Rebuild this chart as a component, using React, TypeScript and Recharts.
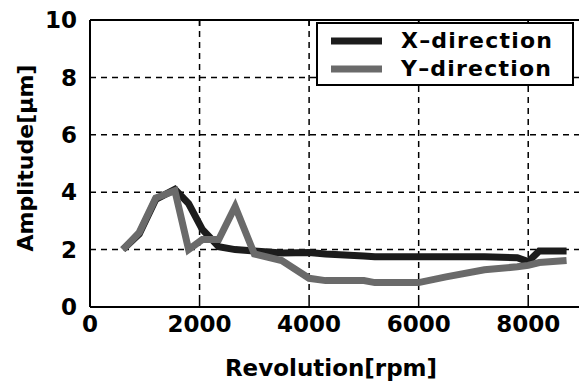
import { LineChart, Line, XAxis, YAxis, CartesianGrid, Legend, Label } from "recharts";

const rpm = [600, 900, 1200, 1550, 1800, 2050, 2350, 2650, 3000, 3500, 4000, 4300, 5000, 5200, 6000, 6500, 7200, 7800, 8000, 8200, 8700];
const xDirection = [2.0, 2.55, 3.75, 4.1, 3.6, 2.7, 2.1, 2.0, 1.95, 1.88, 1.9, 1.85, 1.78, 1.75, 1.75, 1.75, 1.75, 1.72, 1.58, 1.95, 1.95];
const yDirection = [2.0, 2.6, 3.8, 4.05, 2.0, 2.35, 2.35, 3.5, 1.85, 1.62, 1.0, 0.92, 0.92, 0.85, 0.85, 1.05, 1.3, 1.4, 1.45, 1.55, 1.62];

const xTicks = [0, 2000, 4000, 6000, 8000];
const yTicks = [0, 2, 4, 6, 8, 10];

const series = [
  { key: "x", name: "X\u2013direction", color: "#1c1c1c" },
  { key: "y", name: "Y\u2013direction", color: "#6a6a6a" },
];

const data = rpm.map((r, i) => ({ rpm: r, x: xDirection[i], y: yDirection[i] }));

const FONT = "'DejaVu Sans', sans-serif";
const tickStyle = { fill: "#000", fontSize: 23, fontWeight: 700, fontFamily: FONT };

function LegendBox() {
  return (
    <div style={{ width: 254, height: 60, border: "2px solid #000", background: "#fff", fontFamily: FONT, fontWeight: 700, fontSize: 22, letterSpacing: 1.2, color: "#000", whiteSpace: "nowrap" }}>
      {series.map((s) => (
        <div key={s.key} style={{ display: "flex", alignItems: "center", height: 28, marginTop: s.key === "x" ? 3 : 0 }}>
          <svg width={51} height={10} style={{ marginLeft: 13, marginRight: 19, flexShrink: 0 }}>
            <line x1={0} x2={51} y1={5} y2={5} stroke={s.color} strokeWidth={7} />
          </svg>
          <span style={{ lineHeight: "28px" }}>{s.name}</span>
        </div>
      ))}
    </div>
  );
}

export default function App() {
  return (
    <div style={{ position: "absolute", left: 0, top: 0, width: 579, height: 383, overflow: "hidden", background: "#fff" }}>
      <LineChart width={600} height={383} data={data} margin={{ top: 19, right: 17, bottom: 16, left: 30 }}>
        <CartesianGrid stroke="#000" strokeWidth={1.5} strokeDasharray="6 5" />
        <XAxis
          dataKey="rpm"
          type="number"
          domain={[0, 9000]}
          ticks={xTicks}
          height={60}
          tickSize={-6}
          tickMargin={15}
          axisLine={{ stroke: "#000", strokeWidth: 2 }}
          tickLine={{ stroke: "#000", strokeWidth: 1.5 }}
          tick={tickStyle}
        >
          <Label
            content={() => (
              <text x={331} y={376} textAnchor="middle" fill="#000" style={{ fontSize: 23, fontWeight: 700, fontFamily: FONT }}>
                Revolution[rpm]
              </text>
            )}
          />
        </XAxis>
        <XAxis
          xAxisId="top"
          orientation="top"
          dataKey="rpm"
          type="number"
          domain={[0, 9000]}
          ticks={xTicks}
          height={1}
          tickSize={-6}
          tickFormatter={() => ""}
          axisLine={{ stroke: "#000", strokeWidth: 2 }}
          tickLine={{ stroke: "#000", strokeWidth: 1.5 }}
        />
        <YAxis
          type="number"
          domain={[0, 10]}
          ticks={yTicks}
          width={60}
          tickLine={false}
          tickMargin={7}
          axisLine={{ stroke: "#000", strokeWidth: 2 }}
          tick={tickStyle}
        >
          <Label
            content={() => (
              <text x={33} y={158} textAnchor="middle" transform="rotate(-90 33 158)" fill="#000" style={{ fontSize: 22, fontWeight: 700, fontFamily: FONT }}>
                Amplitude[μm]
              </text>
            )}
          />
        </YAxis>
        <Legend
          layout="vertical"
          align="center"
          verticalAlign="middle"
          wrapperStyle={{ left: 316, top: 22, width: 258, height: 64 }}
          content={() => <LegendBox />}
        />
        {series.map((s) => (
          <Line
            key={s.key}
            dataKey={s.key}
            name={s.name}
            type="linear"
            stroke={s.color}
            strokeWidth={7}
            dot={false}
            activeDot={false}
            isAnimationActive={false}
          />
        ))}
      </LineChart>
    </div>
  );
}
